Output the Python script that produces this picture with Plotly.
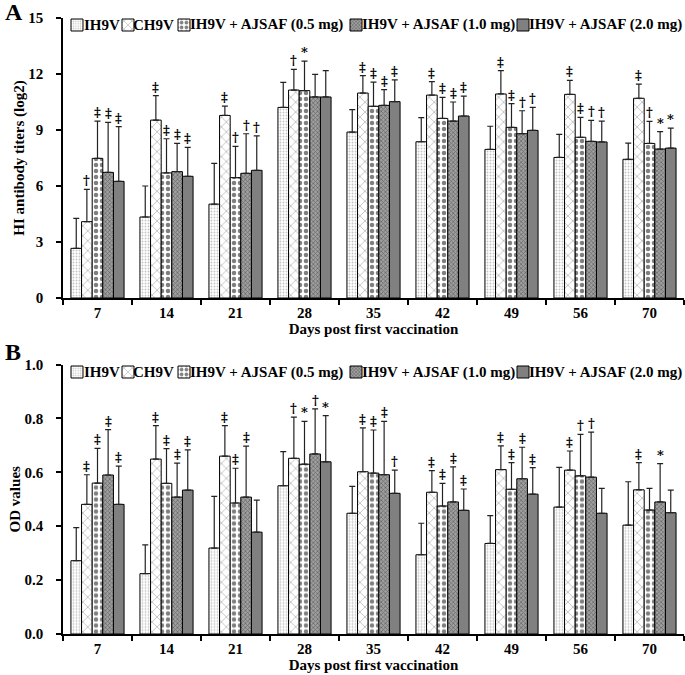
import plotly.graph_objects as go

days = ["7", "14", "21", "28", "35", "42", "49", "56", "70"]
groups = ["IH9V", "CH9V", "IH9V + AJSAF (0.5 mg)", "IH9V + AJSAF (1.0 mg)", "IH9V + AJSAF (2.0 mg)"]

# panel A: HI antibody titers (log2), mean and SD
hi_ih9v = [2.66, 4.34, 5.03, 10.21, 8.89, 8.37, 7.96, 7.53, 7.43]
hi_ch9v = [4.09, 9.53, 9.78, 11.14, 10.98, 10.87, 10.93, 10.91, 10.70]
hi_05 = [7.48, 6.70, 6.45, 11.11, 10.27, 9.62, 9.14, 8.61, 8.28]
hi_10 = [6.73, 6.77, 6.68, 10.77, 10.32, 9.48, 8.80, 8.39, 7.98]
hi_20 = [6.25, 6.52, 6.84, 10.77, 10.52, 9.75, 8.98, 8.36, 8.03]

hi_ih9v_sd = [1.61, 1.66, 2.18, 1.34, 1.20, 1.29, 1.24, 1.24, 0.87]
hi_ch9v_sd = [1.73, 1.31, 0.50, 1.11, 0.93, 0.72, 1.25, 0.75, 0.76]
hi_05_sd = [2.00, 1.83, 1.67, 1.58, 1.30, 1.13, 1.27, 1.07, 1.18]
hi_10_sd = [2.68, 1.51, 2.12, 1.21, 0.84, 1.02, 1.23, 1.13, 0.93]
hi_20_sd = [2.93, 1.55, 1.84, 1.41, 1.16, 1.07, 1.23, 1.12, 1.07]

hi_ih9v_sig = ["", "", "", "", "", "", "", "", ""]
hi_ch9v_sig = ["†", "‡", "‡", "†", "‡", "‡", "‡", "‡", "‡"]
hi_05_sig = ["‡", "‡", "†", "*", "‡", "‡", "‡", "‡", "†"]
hi_10_sig = ["‡", "‡", "†", "", "‡", "‡", "†", "†", "*"]
hi_20_sig = ["‡", "‡", "†", "", "‡", "‡", "†", "†", "*"]

# panel B: OD values, mean and SD
od_ih9v = [0.272, 0.224, 0.319, 0.550, 0.448, 0.294, 0.336, 0.471, 0.404]
od_ch9v = [0.481, 0.649, 0.660, 0.652, 0.602, 0.526, 0.610, 0.608, 0.535]
od_05 = [0.560, 0.559, 0.486, 0.630, 0.597, 0.475, 0.537, 0.587, 0.460]
od_10 = [0.590, 0.508, 0.508, 0.668, 0.591, 0.490, 0.576, 0.582, 0.490]
od_20 = [0.481, 0.534, 0.378, 0.639, 0.522, 0.459, 0.519, 0.448, 0.450]

od_ih9v_sd = [0.123, 0.107, 0.192, 0.127, 0.100, 0.117, 0.103, 0.147, 0.161]
od_ch9v_sd = [0.110, 0.124, 0.113, 0.153, 0.163, 0.080, 0.088, 0.071, 0.101]
od_05_sd = [0.129, 0.129, 0.129, 0.159, 0.160, 0.084, 0.099, 0.154, 0.080]
od_10_sd = [0.168, 0.126, 0.189, 0.167, 0.198, 0.130, 0.117, 0.167, 0.142]
od_20_sd = [0.142, 0.149, 0.119, 0.171, 0.086, 0.079, 0.098, 0.092, 0.084]

od_ih9v_sig = ["", "", "", "", "", "", "", "", ""]
od_ch9v_sig = ["‡", "‡", "‡", "†", "‡", "‡", "‡", "‡", "‡"]
od_05_sig = ["‡", "‡", "‡", "*", "‡", "‡", "‡", "†", ""]
od_10_sig = ["‡", "‡", "‡", "†", "‡", "‡", "‡", "†", "*"]
od_20_sig = ["‡", "‡", "", "*", "†", "‡", "‡", "", ""]

FONT = "Liberation Serif, Times New Roman, serif"
SIGFONT = "DejaVu Serif, serif"

# bar fill patterns, one per group
patterns = [
    dict(shape=".", size=3, solidity=0.3, fgcolor="#8a8a8a", bgcolor="white"),
    dict(shape="x", size=7, solidity=0.2, fgcolor="#666666", bgcolor="white"),
    dict(shape=".", size=6, solidity=0.45, fgcolor="black", bgcolor="white"),
    dict(shape="x", size=3, solidity=0.45, fgcolor="#333333", bgcolor="#a0a0a0"),
    dict(shape="", fgcolor="#808080", bgcolor="#808080"),
]
colors = ["white", "white", "white", "#a0a0a0", "#808080"]

# layout in pixels
W, H = 685, 675
ML, MR, MT, MB = 63, 1, 18, 41
PW, PH = W - ML - MR, H - MT - MB
BARGAP = 0.23
bar_px = PW / len(days) * (1 - BARGAP) / len(groups)

top_dom = [(634 - 298) / PH, 1.0]
bot_dom = [0.0, (634 - 364.5) / PH]

swatch_px = [77, 128, 184, 356, 523]
label_px = [82, 131, 188, 360, 527]

panels = [
    dict(xa="x", ya="y",
         means=[hi_ih9v, hi_ch9v, hi_05, hi_10, hi_20],
         sds=[hi_ih9v_sd, hi_ch9v_sd, hi_05_sd, hi_10_sd, hi_20_sd],
         sigs=[hi_ih9v_sig, hi_ch9v_sig, hi_05_sig, hi_10_sig, hi_20_sig],
         legend_py=25),
    dict(xa="x2", ya="y2",
         means=[od_ih9v, od_ch9v, od_05, od_10, od_20],
         sds=[od_ih9v_sd, od_ch9v_sd, od_05_sd, od_10_sd, od_20_sd],
         sigs=[od_ih9v_sig, od_ch9v_sig, od_05_sig, od_10_sig, od_20_sig],
         legend_py=372),
]

fig = go.Figure()
annotations = []
legends = {}

for p, panel in enumerate(panels):
    ly = (634 - panel["legend_py"]) / PH
    for i, name in enumerate(groups):
        lid = i + 1 + 5 * p
        lkey = "legend" if lid == 1 else f"legend{lid}"
        fig.add_trace(go.Bar(
            x=days, y=panel["means"][i], name=name,
            xaxis=panel["xa"], yaxis=panel["ya"],
            marker=dict(color=colors[i], pattern=patterns[i],
                        line=dict(color="black", width=1)),
            error_y=dict(type="data", symmetric=False,
                         array=panel["sds"][i], arrayminus=[0] * len(days),
                         color="#222222", thickness=1.2, width=3),
            legend=lkey, showlegend=True,
        ))
        # swatch only legend, the text is drawn as annotation
        legends[lkey] = dict(
            x=(swatch_px[i] - 20 - ML) / PW, xanchor="left",
            y=ly, yanchor="middle", orientation="h",
            font=dict(size=1, color="rgba(0,0,0,0)"),
            bgcolor="rgba(0,0,0,0)", borderwidth=0, itemwidth=30,
        )
        annotations.append(dict(
            xref="paper", yref="paper", x=(label_px[i] - ML) / PW, y=ly,
            xanchor="left", yanchor="middle", text=name, showarrow=False,
            font=dict(family=FONT, size=15, color="black", weight="bold"),
        ))
        # significance marks above error bars
        for d in range(len(days)):
            s = panel["sigs"][i][d]
            if not s:
                continue
            annotations.append(dict(
                xref=panel["xa"], yref=panel["ya"], x=d,
                y=panel["means"][i][d] + panel["sds"][i][d],
                xshift=(i - 2) * bar_px, yanchor="bottom", yshift=-1,
                text=s, showarrow=False,
                font=dict(family=SIGFONT, size=13, color="black", weight="bold"),
            ))

# panel letters
annotations.append(dict(xref="paper", yref="paper", x=(3 - ML) / PW, y=(634 - 12) / PH,
                        xanchor="left", yanchor="middle", text="A", showarrow=False,
                        font=dict(family=FONT, size=24, color="black", weight="bold")))
annotations.append(dict(xref="paper", yref="paper", x=(3 - ML) / PW, y=(634 - 352) / PH,
                        xanchor="left", yanchor="middle", text="B", showarrow=False,
                        font=dict(family=FONT, size=24, color="black", weight="bold")))

tickfont = dict(family=FONT, size=15, color="black", weight="bold")
titlefont = dict(family=FONT, size=15, color="black", weight="bold")

xcommon = dict(type="category", range=[-0.5, len(days) - 0.5], showline=True,
               linecolor="black", linewidth=1.5, ticks="outside", ticklen=5,
               tickwidth=1.5, tickcolor="black", tickson="boundaries",
               tickfont=tickfont, tickangle=0, showgrid=False, zeroline=False,
               title=dict(text="Days post first vaccination", font=titlefont, standoff=2))
ycommon = dict(showline=True, linecolor="black", linewidth=1.5, ticks="outside",
               ticklen=5, tickwidth=1.5, tickcolor="black", tickfont=tickfont,
               showgrid=False, zeroline=False, ticklabelstandoff=10)

fig.update_layout(
    width=W, height=H,
    margin=dict(l=ML, r=MR, t=MT, b=MB, autoexpand=False),
    paper_bgcolor="white", plot_bgcolor="white",
    barmode="group", bargap=BARGAP, bargroupgap=0,
    font=dict(family=FONT, color="black"),
    xaxis=dict(xcommon, anchor="y", domain=[0, 1]),
    yaxis=dict(ycommon, anchor="x", domain=top_dom, range=[0, 15], dtick=3,
               title=dict(text="HI antibody titers (log2)", font=titlefont, standoff=0)),
    xaxis2=dict(xcommon, anchor="y2", domain=[0, 1]),
    yaxis2=dict(ycommon, anchor="x2", domain=bot_dom, range=[0, 1.0], dtick=0.2,
                tickformat=".1f",
                title=dict(text="OD values", font=titlefont, standoff=0)),
    annotations=annotations,
    **legends,
)

# page body has a default 8px margin; drop it so the figure sits at the corner
fig.write_html("out.html", config={"displayModeBar": False},
               post_script="document.body.style.margin='0';")
